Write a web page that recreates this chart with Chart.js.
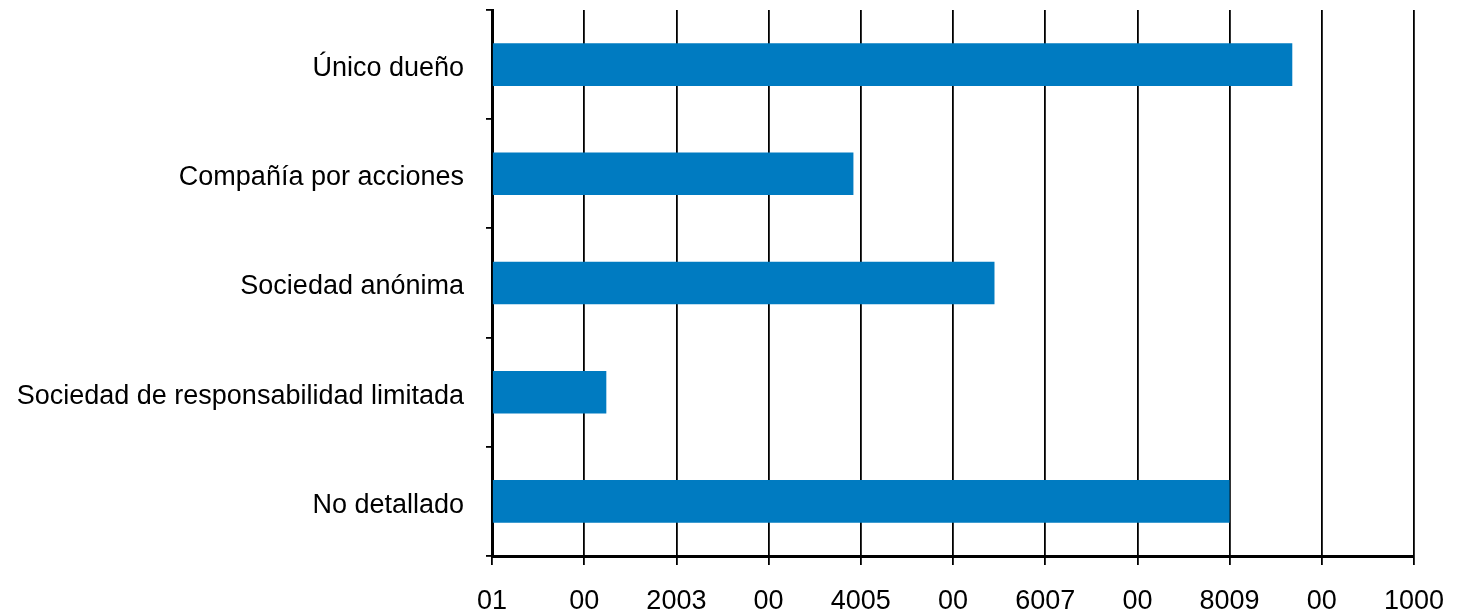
<!DOCTYPE html>
<html>
<head>
<meta charset="utf-8">
<script src="https://cdn.jsdelivr.net/npm/chart.js@4"></script>
<style>
  html, body { margin: 0; padding: 0; background: #fff; }
  #wrap { width: 1467px; height: 614px; }
</style>
</head>
<body>
<div id="wrap"><canvas id="myChart"></canvas></div>
<script>
var categories = ['Único dueño', 'Compañía por acciones', 'Sociedad anónima', 'Sociedad de responsabilidad limitada', 'No detallado'];
var values = [868, 392, 545, 124, 800];
var tickLabels = ['01', '00', '2003', '00', '4005', '00', '6007', '00', '8009', '00', '1000'];

var font = { family: "'Liberation Sans', Arial, sans-serif", size: 27 };

new Chart('myChart', {
  type: 'bar',
  data: {
    labels: categories,
    datasets: [{
      data: values,
      backgroundColor: '#007bc1',
      barPercentage: 0.78,
      categoryPercentage: 0.5
    }]
  },
  options: {
    indexAxis: 'y',
    responsive: true,
    maintainAspectRatio: false,
    animation: false,
    layout: { padding: { top: 10, right: 53, left: 0, bottom: 0 } },
    plugins: { legend: { display: false }, tooltip: { enabled: false } },
    scales: {
      x: {
        min: 0,
        max: 1000,
        ticks: {
          stepSize: 100,
          color: '#000',
          font: font,
          padding: 20,
          maxRotation: 0,
          autoSkip: false,
          callback: function (v, i) { return tickLabels[i]; }
        },
        grid: { color: '#000', lineWidth: 1.8, tickLength: 9 },
        border: { color: '#000', width: 3 },
        afterFit: function (s) { s.height = 58; }
      },
      y: {
        ticks: { color: '#000', font: font, padding: 22, labelOffset: 4 },
        grid: { offset: true, drawOnChartArea: false, color: '#000', lineWidth: 1.8, tickLength: 6 },
        border: { color: '#000', width: 3 },
        afterFit: function (s) { s.width = 492; s.paddingTop = 0; s.paddingBottom = 0; }
      }
    }
  }
});
</script>
</body>
</html>
